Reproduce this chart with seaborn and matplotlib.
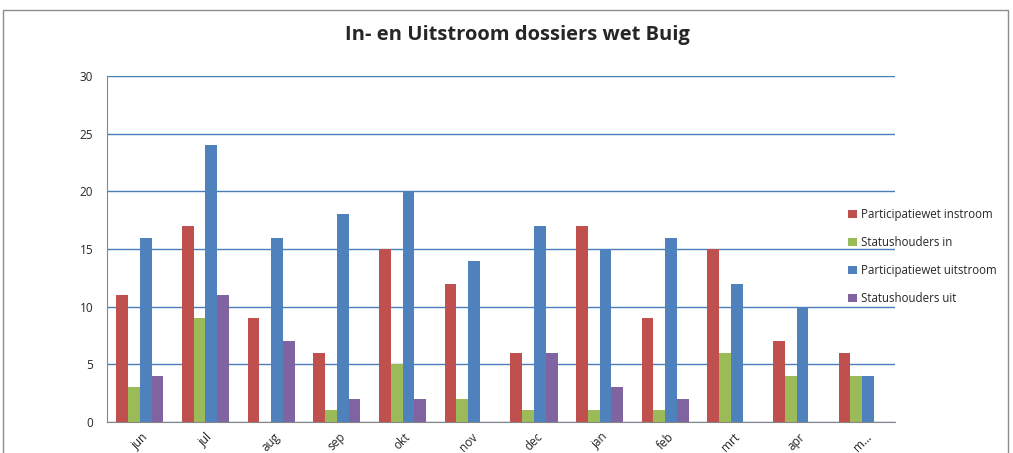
import numpy as np
import pandas as pd
import seaborn as sns
import matplotlib.pyplot as plt
from matplotlib.patches import Rectangle

sns.set_style('white')
plt.rcParams['font.family'] = ['Open Sans', 'DejaVu Sans']

maanden = ["jun", "jul", "aug", "sep", "okt", "nov", "dec", "jan", "feb", "mrt", "apr", "m…"]
series = ["Participatiewet instroom", "Statushouders in",
          "Participatiewet uitstroom", "Statushouders uit"]
part_in = [11, 17, 9, 6, 15, 12, 6, 17, 9, 15, 7, 6]
status_in = [3, 9, 0, 1, 5, 2, 1, 1, 1, 6, 4, 4]
part_uit = [16, 24, 16, 18, 20, 14, 17, 15, 16, 12, 10, 4]
status_uit = [4, 11, 7, 2, 2, 0, 6, 3, 2, 0, 0, 0]
kleuren = ["#C0504D", "#9BBB59", "#4F81BD", "#8064A2"]

df = pd.DataFrame({
    "maand": maanden * 4,
    "reeks": np.repeat(series, len(maanden)),
    "aantal": part_in + status_in + part_uit + status_uit,
})

fig = plt.figure(figsize=(10.13, 4.53), dpi=100)
ax = fig.add_axes([0.1056, 0.0684, 0.778, 0.7636])

sns.barplot(data=df, x="maand", y="aantal", hue="reeks", hue_order=series,
            palette=kleuren, width=0.72, saturation=1, ax=ax, zorder=3,
            edgecolor="none")

ax.set_ylim(0, 30)
ax.set_xlim(-0.5, len(maanden) - 0.5)
ax.set_yticks(range(0, 31, 5))
ax.yaxis.grid(True, color="#4A7EBB", lw=1, zorder=0)
ax.set_axisbelow(True)
ax.set_xlabel("")
ax.set_ylabel("")
for s in ["top", "right"]:
    ax.spines[s].set_visible(False)
for s in ["left", "bottom"]:
    ax.spines[s].set_color("#868686")
ax.tick_params(axis='y', length=4, color="#868686", labelsize=8.5, pad=6)
ax.tick_params(axis='x', which='major', length=0, labelsize=8.5, pad=6)
ax.set_xticks(np.arange(-0.5, len(maanden), 1), minor=True)
ax.tick_params(axis='x', which='minor', length=5, color="#868686")
plt.setp(ax.get_xticklabels(), rotation=45, ha='center')

ax.legend(loc='center left', bbox_to_anchor=(0.935, 0.478), frameon=False,
          fontsize=8.3, handlelength=0.7, handleheight=0.7, labelspacing=1.3,
          handletextpad=0.4, borderaxespad=0)

fig.suptitle("In- en Uitstroom dossiers wet Buig", x=0.511, y=0.945,
             fontsize=14.5, fontweight='bold')

fig.patches.append(Rectangle((0.003, -0.05), 0.992, 1.028, transform=fig.transFigure,
                             fill=False, edgecolor="#8C8C8C", lw=1))

fig.savefig("out.png", dpi=100)
